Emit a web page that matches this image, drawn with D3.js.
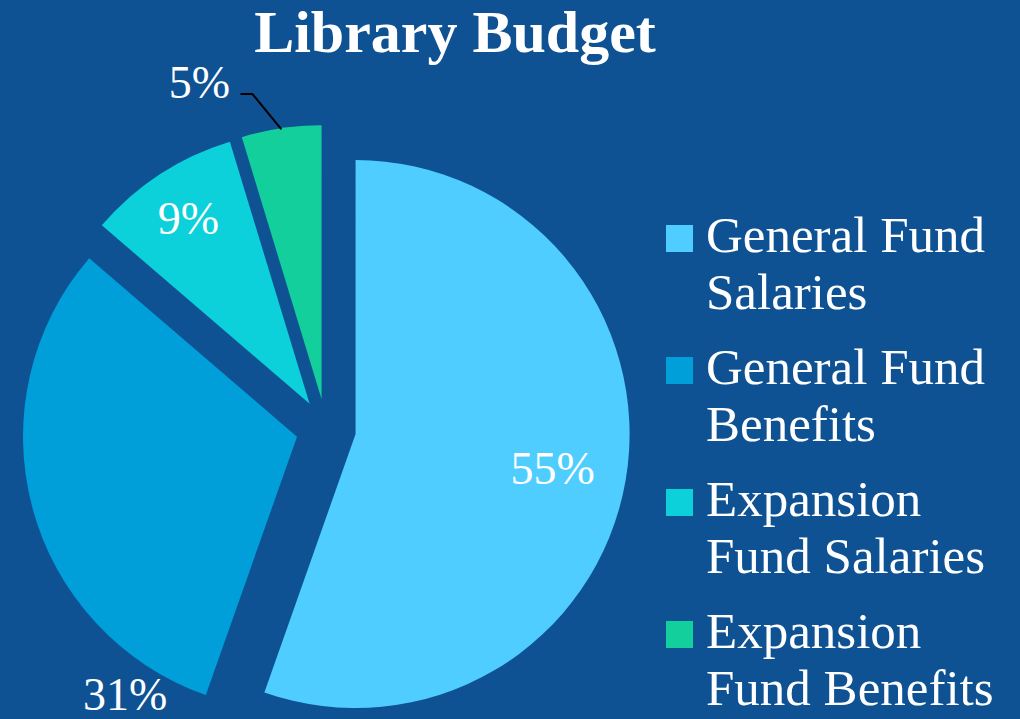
<!DOCTYPE html>
<html>
<head>
<meta charset="utf-8">
<script src="https://cdn.jsdelivr.net/npm/d3@7"></script>
<style>
  html, body { margin: 0; padding: 0; background: #0e5294; }
  svg { display: block; }
</style>
</head>
<body>
<svg id="chart" width="1020" height="719"></svg>
<script>
// chart data (shares, labels show them rounded)
const categories = ["General Fund Salaries", "General Fund Benefits", "Expansion Fund Salaries", "Expansion Fund Benefits"]
const legendLines = [["General Fund", "Salaries"], ["General Fund", "Benefits"], ["Expansion", "Fund Salaries"], ["Expansion", "Fund Benefits"]]
const shares = [55.4, 30.9, 9.0, 4.7]
const colors = ["#50cdff", "#009fda", "#0cd0da", "#12cf9b"]

const width = 1020, height = 719
const radius = 274
const explode = 30
const cx = 326, cy = 429
const font = "'Liberation Serif', 'Times New Roman', serif"

const svg = d3.select("#chart")

svg.append("rect")
  .attr("width", width)
  .attr("height", height)
  .attr("fill", "#0e5294")

svg.append("text")
  .attr("x", 455)
  .attr("y", 52)
  .attr("text-anchor", "middle")
  .attr("fill", "#fff")
  .style("font", `bold 60px ${font}`)
  .text("Library Budget")

let pie = d3.pie().sort(null).value(d => d)
let arcs = pie(shares)

let arc = d3.arc().innerRadius(0).outerRadius(radius)

// offset of a slice along its middle angle
let shift = (d, r) => {
  const a = (d.startAngle + d.endAngle) / 2
  return [r * Math.sin(a), -r * Math.cos(a)]
}
let polar = (deg, r) => {
  const a = deg * Math.PI / 180
  return [r * Math.sin(a), -r * Math.cos(a)]
}

let g = svg.append("g").attr("transform", `translate(${cx},${cy})`)

g.selectAll("path")
  .data(arcs)
  .enter().append("path")
  .attr("transform", d => `translate(${shift(d, explode)})`)
  .attr("fill", (d, i) => colors[i])
  .attr("d", arc)

// label placement: inside ones by radius fraction, outside ones by angle
const labelPlace = [
  { r: 0.73 },
  { r: 1.13, angle: 213.7 },
  { r: 0.81 },
  { r: 1.24, angle: 338.9, leader: true }
]

arcs.forEach((d, i) => {
  const p = labelPlace[i]
  const o = shift(d, explode)
  const mid = (d.startAngle + d.endAngle) / 2 * 180 / Math.PI
  const pos = polar(p.angle !== undefined ? p.angle : mid, p.r * radius)
  const x = o[0] + pos[0], y = o[1] + pos[1]

  if (p.leader) {
    const a = polar(mid, radius - 1)
    const b = polar(mid - 4.3, 313)
    g.append("polyline")
      .attr("points", [[o[0] + a[0], o[1] + a[1]], [o[0] + b[0], o[1] + b[1]], [o[0] + b[0] - 12, o[1] + b[1]]].join(" "))
      .attr("fill", "none")
      .attr("stroke", "#000")
      .attr("stroke-width", 2)
  }

  g.append("text")
    .attr("x", x)
    .attr("y", y)
    .attr("dy", "0.35em")
    .attr("text-anchor", "middle")
    .attr("fill", "#fff")
    .style("font", `46px ${font}`)
    .text(Math.round(d.data) + "%")
})

// legend
let legend = svg.append("g").attr("transform", "translate(666,225)")
let item = legend.selectAll("g")
  .data(categories)
  .enter().append("g")
  .attr("transform", (d, i) => `translate(0,${i * 132})`)

item.append("rect")
  .attr("width", 27)
  .attr("height", 27)
  .attr("fill", (d, i) => colors[i])

item.append("text")
  .attr("fill", "#fff")
  .style("font", `51px ${font}`)
  .selectAll("tspan")
  .data((d, i) => legendLines[i])
  .enter().append("tspan")
  .attr("x", 40)
  .attr("y", (d, j) => 27 + j * 57)
  .text(d => d)
</script>
</body>
</html>
